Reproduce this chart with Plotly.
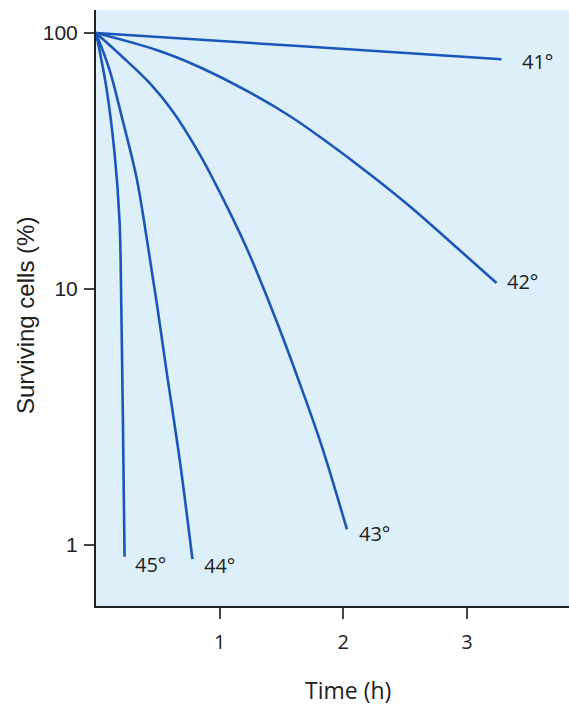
import math
import plotly.graph_objects as go

# Survival curves (time in h, surviving cells in %)
t41 = [0, 1.64, 3.28]
s41 = [100, 88.9, 79]

t42 = [0, 0.49, 0.84, 1.24, 1.57, 1.83, 2.21, 2.54, 2.94, 3.24]
s42 = [100, 85.8, 73.5, 58.7, 47.3, 38.7, 28.2, 21.0, 14.2, 10.55]

t43 = [0, 0.215, 0.433, 0.62, 0.84, 1.02, 1.22, 1.46, 1.67, 1.83, 2.03]
s43 = [100, 80.6, 63.8, 49.5, 33.5, 22.9, 14.4, 7.5, 4.0, 2.4, 1.15]

t44 = [0, 0.11, 0.215, 0.33, 0.41, 0.49, 0.57, 0.68, 0.78]
s44 = [100, 71.6, 45.7, 26.9, 15.8, 8.9, 4.8, 2.1, 0.88]

t45 = [0, 0.083, 0.15, 0.19, 0.204, 0.217, 0.231]
s45 = [100, 61.6, 34.0, 18.6, 9.06, 3.27, 0.9]

labels = ["41°", "42°", "43°", "44°", "45°"]
x_ticks = [1, 2, 3]
y_ticks = [1, 10, 100]

series = [(t41, s41), (t42, s42), (t43, s43), (t44, s44), (t45, s45)]
label_shift = [(18, -2), (8, 2), (10, -4), (10, -6), (8, -8)]

LINE = "#1b56ba"
fig = go.Figure()
for (t, s), name in zip(series, labels):
    fig.add_trace(go.Scatter(x=t, y=s, mode="lines", name=name,
                             line=dict(color=LINE, width=2.6, shape="spline", smoothing=1.0),
                             showlegend=False, hoverinfo="skip"))

ann = []
for (t, s), name, (dx, dy) in zip(series, labels, label_shift):
    ann.append(dict(x=t[-1], y=math.log10(s[-1]), xref="x", yref="y",
                    text=name, showarrow=False, xanchor="left", yanchor="middle",
                    xshift=dx, yshift=dy,
                    font=dict(family="Open Sans", size=20, color="#222")))

ann.append(dict(x=348, y=690, text="Time (h)", showarrow=False,
                font=dict(family="Open Sans", size=23, color="#222")))
ann.append(dict(x=25, y=316, text="Surviving cells (%)", showarrow=False,
                textangle=-90, font=dict(family="Liberation Sans", size=24, color="#222")))

# convert pixel-positioned titles to paper coords
W, H = 569, 707
L, R, T, B = 96, 0, 10, 101
pw, ph = W - L - R, H - T - B
for a in ann[-2:]:
    px, py = a["x"], a["y"]
    a["x"] = (px - L) / pw
    a["y"] = 1 - (py - T) / ph
    a["xref"] = "paper"
    a["yref"] = "paper"
    a["xanchor"] = "center"
    a["yanchor"] = "middle"

fig.update_layout(
    width=W, height=H,
    margin=dict(l=L, r=R, t=T, b=B, pad=0),
    paper_bgcolor="white",
    plot_bgcolor="#ddf0f9",
    annotations=ann,
    xaxis=dict(range=[0, 3.826], tickvals=x_ticks, ticktext=[str(v) for v in x_ticks],
               showgrid=False, zeroline=False, showline=True, linecolor="#222", linewidth=2,
               ticks="outside", ticklen=11, tickwidth=1.5, tickcolor="#444",
               ticklabelstandoff=6,
               tickfont=dict(family="Open Sans", size=20, color="#222")),
    yaxis=dict(type="log", range=[-0.2383, 2.0898], tickvals=y_ticks,
               ticktext=[str(v) for v in y_ticks],
               showgrid=False, zeroline=False, showline=True, linecolor="#222", linewidth=2,
               ticks="outside", ticklen=10, tickwidth=1.5, tickcolor="#444",
               ticklabelstandoff=2,
               tickfont=dict(family="Liberation Sans", size=21, color="#222")),
)

fig.write_html("out.html")
